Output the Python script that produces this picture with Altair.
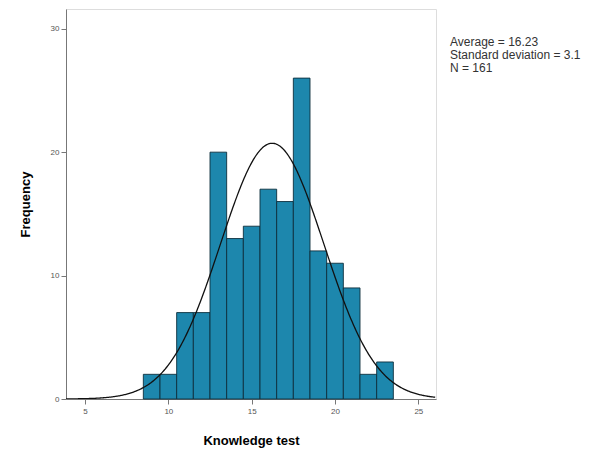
import altair as alt
import pandas as pd

# Histogram data (bin centres, width 1)
scores = [9, 10, 11, 12, 13, 14, 15, 16, 17, 18, 19, 20, 21, 22, 23]
counts = [2, 2, 7, 7, 20, 13, 14, 17, 16, 26, 12, 11, 9, 2, 3]

# Summary statistics shown on the chart
mean_val = 16.23
sd_val = 3.1
n_val = 161
stats_lines = ["Average = 16.23", "Standard deviation = 3.1", "N = 161"]

x_ticks = [5, 10, 15, 20, 25]
y_ticks = [0, 10, 20, 30]
x_domain = [3.86, 26.06]
y_domain = [0, 31.6]

bars_df = pd.DataFrame({"score": scores, "count": counts})

x_scale = alt.Scale(domain=x_domain, nice=False, zero=False)
y_scale = alt.Scale(domain=y_domain, nice=False)

x_axis = alt.Axis(values=x_ticks, title="Knowledge test", grid=False,
                  labelFontSize=8, labelColor="#555", tickColor="#777",
                  domainColor="#777", titleFontSize=13, titleFontWeight="bold",
                  titleFont="Liberation Sans", labelFont="Liberation Sans",
                  titlePadding=19, tickSize=5, labelPadding=3)
y_axis = alt.Axis(values=y_ticks, title="Frequency", grid=False,
                  labelFontSize=8, labelColor="#555", tickColor="#777",
                  domainColor="#777", titleFontSize=13, titleFontWeight="bold",
                  titleFont="Liberation Sans", labelFont="Liberation Sans",
                  titlePadding=18, tickSize=5, labelPadding=2)

bars = alt.Chart(bars_df).transform_calculate(
    lo="datum.score - 0.5", hi="datum.score + 0.5"
).mark_bar(color="#1d87ad", stroke="#0d2f3d", strokeWidth=0.9).encode(
    x=alt.X("lo:Q", scale=x_scale, axis=x_axis),
    x2="hi:Q",
    y=alt.Y("count:Q", scale=y_scale, axis=y_axis),
    y2=alt.datum(0),
)

curve = alt.Chart(alt.sequence(3.86, 26.06, 0.05, as_="x")).transform_calculate(
    dens=f"{n_val} / ({sd_val} * sqrt(2 * PI)) * exp(-0.5 * pow((datum.x - {mean_val}) / {sd_val}, 2))"
).mark_line(color="#111", strokeWidth=1.3, clip=True).encode(
    x=alt.X("x:Q", scale=x_scale),
    y=alt.Y("dens:Q", scale=y_scale),
)

stats_df = pd.DataFrame({"t": stats_lines, "i": list(range(len(stats_lines)))})
stats = alt.Chart(stats_df).transform_calculate(
    py="33 + datum.i * 13"
).mark_text(align="left", baseline="middle", fontSize=12,
            font="Liberation Sans", color="#333").encode(
    x=alt.value(384),
    y=alt.Y("py:Q", scale=None),
    text="t:N",
)

chart = alt.layer(bars, curve, stats).properties(
    width=370, height=390,
    autosize=alt.AutoSizeParams(type="none"),
    padding={"left": 58, "top": 1, "right": 160, "bottom": 50},
).configure_view(stroke="#888", strokeWidth=1.2).configure(background="white")

chart.save("out.html", embed_options={"renderer": "svg", "actions": False})
